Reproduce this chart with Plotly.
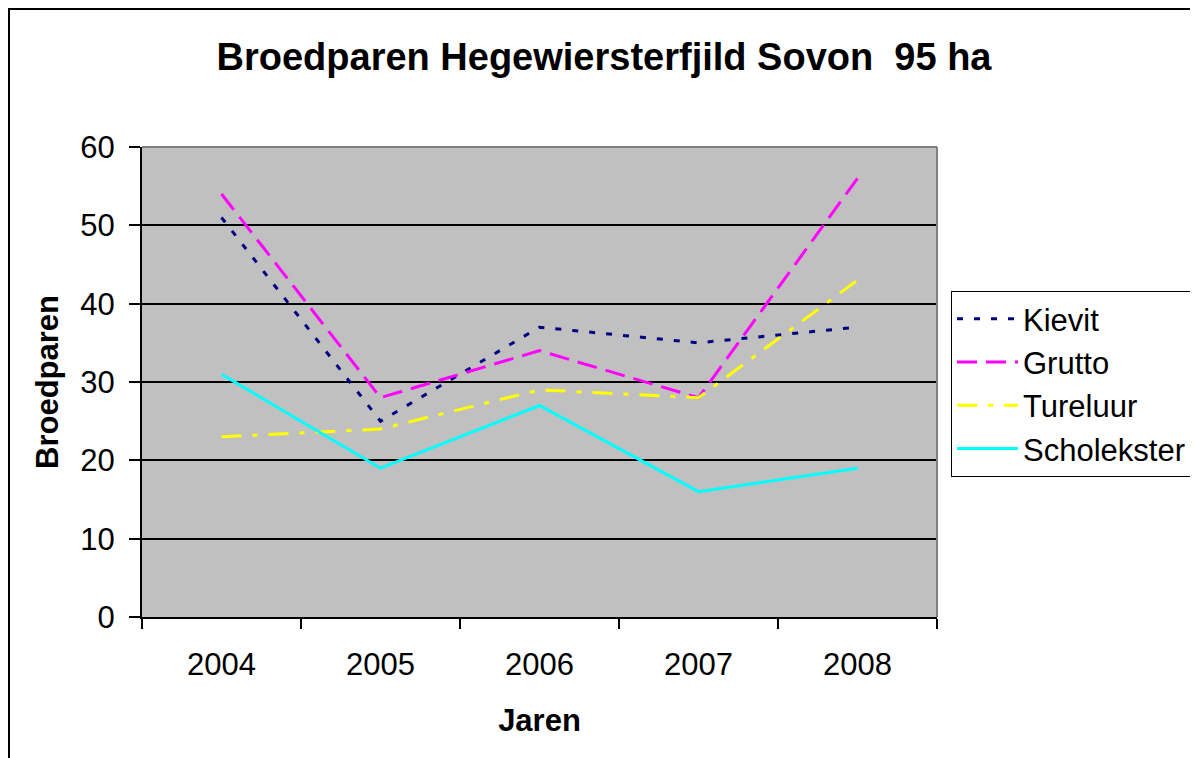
import plotly.graph_objects as go

years = ["2004", "2005", "2006", "2007", "2008"]
kievit = [51, 25, 37, 35, 37]
grutto = [54, 28, 34, 28, 56]
tureluur = [23, 24, 29, 28, 43]
scholekster = [31, 19, 27, 16, 19]

FONT = "Liberation Sans, Arial, sans-serif"

fig = go.Figure()
fig.add_trace(go.Scatter(x=years, y=kievit, name="Kievit", mode="lines",
                         line=dict(color="#000080", width=3, dash="6px,11px")))
fig.add_trace(go.Scatter(x=years, y=grutto, name="Grutto", mode="lines",
                         line=dict(color="#FF00FF", width=3, dash="20px,9px")))
fig.add_trace(go.Scatter(x=years, y=tureluur, name="Tureluur", mode="lines",
                         line=dict(color="#FFFF00", width=3, dash="20px,11px,5px,11px")))
fig.add_trace(go.Scatter(x=years, y=scholekster, name="Scholekster", mode="lines",
                         line=dict(color="#00FFFF", width=3)))

# page has an 8px body margin; figure coords = page coords - 8
OFF = 8
W, H = 1198 - OFF, 758 - OFF
L, R, T, B = 142 - OFF, 937 - OFF, 147 - OFF, 617 - OFF
pw, ph = R - L, B - T

def px_x(p):
    return (p - OFF - L) / pw

def px_y(p):
    return (B - (p - OFF)) / ph

fig.update_layout(
    width=W, height=H,
    margin=dict(l=L, r=W - R, t=T, b=H - B, pad=0, autoexpand=False),
    paper_bgcolor="white",
    plot_bgcolor="#C0C0C0",
    font=dict(family=FONT, size=31, color="black"),
    title=dict(text="<b>Broedparen Hegewiersterfjild Sovon  95 ha</b>",
               font=dict(family=FONT, size=38, color="black"),
               x=(604 - OFF) / W, xanchor="center", y=1 - (57 - OFF) / H,
               yanchor="middle", xref="container", yref="container"),
    showlegend=True,
    legend=dict(x=px_x(951), y=px_y(291), xanchor="left", yanchor="top",
                bgcolor="white", bordercolor="black", borderwidth=1,
                font=dict(family=FONT, size=31, color="black"),
                itemwidth=61, tracegroupgap=0),
    xaxis=dict(type="category", range=[-0.5, 4.5], tickson="boundaries",
               ticks="outside", ticklen=10,
               tickwidth=1.5, tickcolor="black", showline=True, linecolor="black",
               linewidth=2, showgrid=False, zeroline=False,
               ticklabelstandoff=19,
               title=dict(text="<b>Jaren</b>", font=dict(family=FONT, size=31),
                          standoff=28)),
    yaxis=dict(range=[0, 60], dtick=10, ticks="outside", ticklen=11, tickwidth=1.5,
               tickcolor="black", showline=True, linecolor="black", linewidth=2,
               showgrid=True, gridcolor="black", gridwidth=1.5, zeroline=False,
               ticklabelstandoff=8,
               title=dict(text="<b>Broedparen</b>", font=dict(family=FONT, size=31),
                          standoff=12)),
    shapes=[
        dict(type="line", xref="x domain", yref="y domain", x0=0, x1=1, y0=1, y1=1,
             line=dict(color="#808080", width=2), layer="above"),
        dict(type="line", xref="x domain", yref="y domain", x0=1, x1=1, y0=0, y1=1,
             line=dict(color="#808080", width=2), layer="above"),
        dict(type="rect", xref="paper", yref="paper",
             x0=px_x(OFF + 1), x1=px_x(1260), y0=px_y(OFF + 1), y1=px_y(820),
             line=dict(color="black", width=2), fillcolor="rgba(0,0,0,0)",
             layer="above"),
    ],
)

fig.write_html("out.html")
